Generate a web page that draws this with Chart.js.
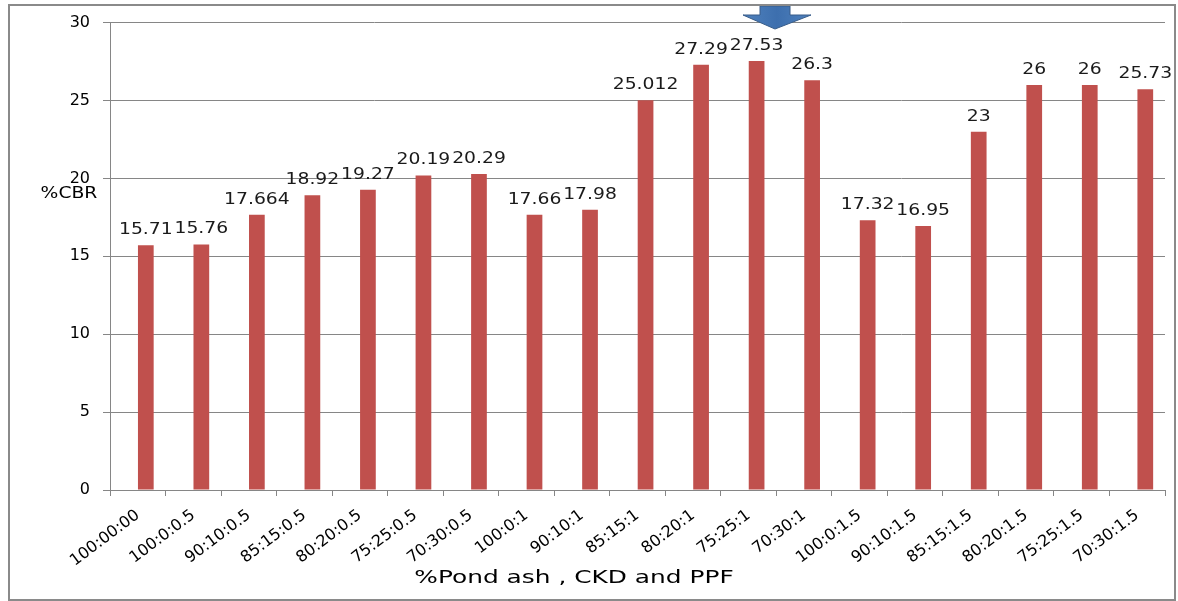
<!DOCTYPE html>
<html>
<head>
<meta charset="utf-8">
<script src="https://cdn.jsdelivr.net/npm/chart.js@4.4.0/dist/chart.umd.min.js"></script>
<style>
  html, body { margin: 0; padding: 0; background: #fff; }
  #wrap { width: 1178px; height: 601px; position: relative; }
</style>
</head>
<body>
<div id="wrap"><canvas id="cbrChart"></canvas></div>
<script>
// DATA
const mixes = ["100:00:00", "100:0:0.5", "90:10:0.5", "85:15:0.5", "80:20:0.5", "75:25:0.5", "70:30:0.5",
  "100:0:1", "90:10:1", "85:15:1", "80:20:1", "75:25:1", "70:30:1",
  "100:0:1.5", "90:10:1.5", "85:15:1.5", "80:20:1.5", "75:25:1.5", "70:30:1.5"];
const cbrValues = [15.71, 15.76, 17.664, 18.92, 19.27, 20.19, 20.29,
  17.66, 17.98, 25.012, 27.29, 27.53, 26.3,
  17.32, 16.95, 23, 26, 26, 25.73];
const yTicks = [0, 5, 10, 15, 20, 25, 30];

const axisGray = "#868686";

// draws text squeezed wider, like the stretched original picture
function wideText(ctx, text, x, y, sx) {
  ctx.save();
  ctx.translate(x, y);
  ctx.scale(sx, 1);
  ctx.fillText(text, 0, 0);
  ctx.restore();
}

const extras = {
  id: "extras",
  beforeDraw(chart) {
    const ctx = chart.ctx;
    ctx.save();
    ctx.fillStyle = "#fff";
    ctx.fillRect(0, 0, chart.width, chart.height);
    ctx.restore();
  },
  afterDatasetsUpdate(chart) {
    // bars sit a little right of the category centre in the original
    const xs = chart.scales.x;
    const step = xs.width / mixes.length;
    chart.getDatasetMeta(0).data.forEach(b => { b.x += step * 0.145; });
  },
  afterDatasetsDraw(chart) {
    const ctx = chart.ctx;
    ctx.save();
    ctx.fillStyle = "#1a1a1a";
    ctx.font = "15px 'DejaVu Sans'";
    ctx.textAlign = "center";
    ctx.textBaseline = "alphabetic";
    chart.getDatasetMeta(0).data.forEach((b, i) => {
      wideText(ctx, String(cbrValues[i]), b.x, b.y - 11, 1.25);
    });
    ctx.restore();
  },
  afterDraw(chart) {
    const ctx = chart.ctx;
    ctx.save();
    // y title inside the plot's left side
    ctx.fillStyle = "#000";
    ctx.font = "15px 'DejaVu Sans'";
    ctx.textAlign = "center";
    ctx.textBaseline = "middle";
    wideText(ctx, "%CBR", 69, 194, 1.25);
    // x title
    ctx.font = "18px 'DejaVu Sans'";
    wideText(ctx, "%Pond ash , CKD and PPF", 574, 578, 1.38);

    // blue arrow at the top
    ctx.beginPath();
    ctx.moveTo(760, 6);
    ctx.lineTo(790, 6);
    ctx.lineTo(790, 15);
    ctx.lineTo(811, 15);
    ctx.lineTo(775, 29);
    ctx.lineTo(743, 15);
    ctx.lineTo(760, 15);
    ctx.closePath();
    const g = ctx.createLinearGradient(743, 0, 811, 0);
    g.addColorStop(0, "#4f81bd");
    g.addColorStop(0.5, "#3d6fae");
    g.addColorStop(1, "#4f81bd");
    ctx.fillStyle = g;
    ctx.fill();
    ctx.strokeStyle = "#385d8a";
    ctx.lineWidth = 1;
    ctx.stroke();

    // outer frame
    ctx.strokeStyle = "#8a8a8a";
    ctx.lineWidth = 2;
    ctx.strokeRect(9, 5, 1166, 595);
    ctx.restore();
  }
};

new Chart(document.getElementById("cbrChart"), {
  type: "bar",
  data: {
    labels: mixes,
    datasets: [{
      data: cbrValues,
      backgroundColor: "#c0504d",
      borderWidth: 0,
      barPercentage: 0.283,
      categoryPercentage: 1
    }]
  },
  options: {
    responsive: true,
    maintainAspectRatio: false,
    animation: false,
    layout: { padding: { top: 20, right: 13, left: 0, bottom: 0 } },
    plugins: {
      legend: { display: false },
      tooltip: { enabled: false }
    },
    scales: {
      x: {
        grid: { display: true, drawOnChartArea: false, offset: true, tickLength: 6, color: axisGray },
        border: { color: axisGray, width: 1 },
        ticks: {
          autoSkip: false, minRotation: 37, maxRotation: 37, padding: 10,
          color: "#000", font: { family: "DejaVu Sans", size: 16 }
        },
        afterFit: s => { s.height = 111; }
      },
      y: {
        min: 0, max: 30,
        afterBuildTicks: s => { s.ticks = yTicks.map(v => ({ value: v })); },
        grid: { color: axisGray, tickLength: 7 },
        border: { color: axisGray, width: 1 },
        ticks: { padding: 13, color: "#000", font: { family: "DejaVu Sans", size: 16 } },
        afterFit: s => { s.width = 110; }
      }
    }
  },
  plugins: [extras]
});
</script>
</body>
</html>
